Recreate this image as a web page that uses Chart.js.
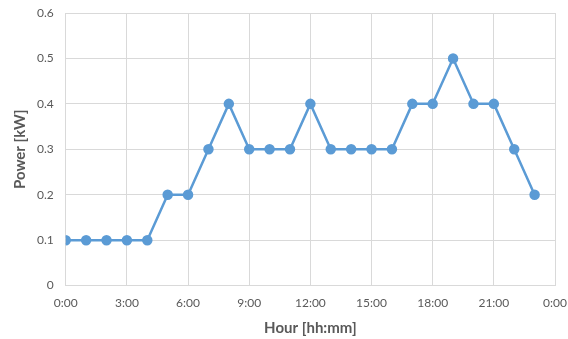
<!DOCTYPE html>
<html lang="en">
<head>
    <meta charset="UTF-8">
    <title>Power by hour</title>
    <script src="https://cdn.jsdelivr.net/npm/chart.js"></script>
    <style>
        html, body { margin: 0; padding: 0; background: #fff; }
    </style>
</head>
<body>
    <canvas id="powerChart" width="568" height="339"></canvas>

    <script>
        // hourly readings, hour 0..23
        const hours = [0, 1, 2, 3, 4, 5, 6, 7, 8, 9, 10, 11, 12, 13, 14, 15, 16, 17, 18, 19, 20, 21, 22, 23];
        const powerKw = [0.1, 0.1, 0.1, 0.1, 0.1, 0.2, 0.2, 0.3, 0.4, 0.3, 0.3, 0.3, 0.4, 0.3, 0.3, 0.3, 0.3, 0.4, 0.4, 0.5, 0.4, 0.4, 0.3, 0.2];
        const xTicks = [0, 3, 6, 9, 12, 15, 18, 21, 24];
        const yTicks = [0, 0.1, 0.2, 0.3, 0.4, 0.5, 0.6];

        const gray = '#595959';
        const gridColor = '#d9d9d9';
        const blue = '#5b9bd5';

        const points = hours.map((h, i) => ({ x: h, y: powerKw[i] }));

        new Chart(document.getElementById('powerChart'), {
            type: 'line',
            data: {
                datasets: [{
                    label: 'Power',
                    data: points,
                    borderColor: blue,
                    backgroundColor: blue,
                    borderWidth: 2.5,
                    pointRadius: 4,
                    pointHoverRadius: 4,
                    tension: 0
                }]
            },
            options: {
                responsive: false,
                animation: false,
                layout: { padding: { top: 0, right: 0, left: 11, bottom: 2 } },
                plugins: { legend: { display: false }, tooltip: { enabled: false } },
                scales: {
                    x: {
                        type: 'linear',
                        min: xTicks[0],
                        max: xTicks[xTicks.length - 1],
                        afterBuildTicks: axis => { axis.ticks = xTicks.map(v => ({ value: v })); },
                        // keep the plot close to the right edge like the original
                        afterFit: axis => { axis.paddingRight = 13; axis.paddingLeft = 0; },
                        ticks: {
                            color: gray,
                            font: { family: 'Lato', size: 12 },
                            padding: 10,
                            maxRotation: 0,
                            autoSkip: false,
                            callback: v => (v % 24) + ':00'
                        },
                        grid: { color: gridColor, lineWidth: 1, drawTicks: false },
                        border: { color: gridColor },
                        title: {
                            display: true,
                            text: 'Hour [hh:mm]',
                            color: gray,
                            font: { family: 'Lato', size: 15, weight: 'bold' },
                            padding: { top: -1, bottom: 0 }
                        }
                    },
                    y: {
                        min: 0,
                        max: 0.6,
                        afterBuildTicks: axis => { axis.ticks = yTicks.map(v => ({ value: v })); },
                        afterFit: axis => { axis.paddingTop = 13; },
                        ticks: {
                            color: gray,
                            font: { family: 'Lato', size: 12 },
                            padding: 12,
                            autoSkip: false,
                            callback: v => v === 0 ? '0' : v.toFixed(1)
                        },
                        grid: { color: gridColor, lineWidth: 1, drawTicks: false },
                        border: { color: gridColor },
                        title: {
                            display: true,
                            text: 'Power [kW]',
                            color: gray,
                            font: { family: 'Lato', size: 15, weight: 'bold' },
                            padding: { top: 0, bottom: -4 }
                        }
                    }
                }
            }
        });
    </script>
</body>
</html>
